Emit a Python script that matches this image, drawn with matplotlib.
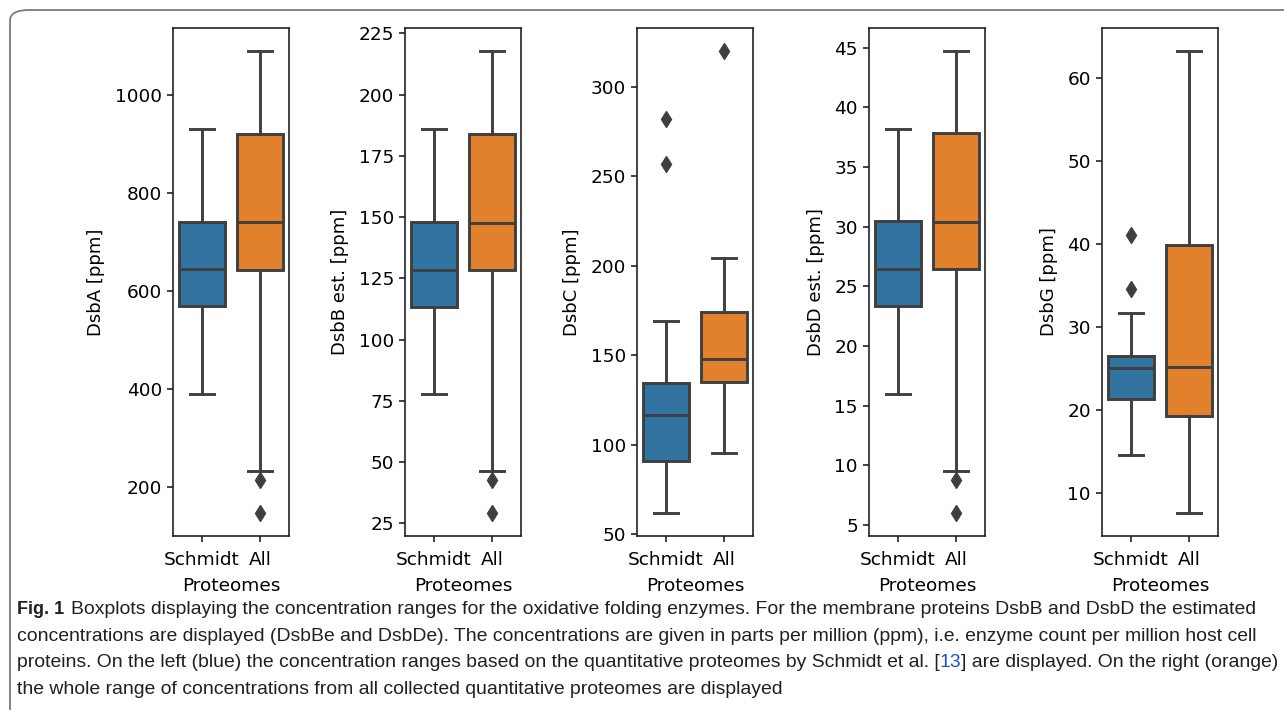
import matplotlib
matplotlib.use("Agg")
import matplotlib.pyplot as plt
from matplotlib.patches import FancyBboxPatch
from matplotlib.text import Annotation

# ---------------- data ----------------
categories = ["Schmidt", "All"]
ylabels = ["DsbA [ppm]", "DsbB est. [ppm]", "DsbC [ppm]", "DsbD est. [ppm]", "DsbG [ppm]"]

# each box: [whisker low, Q1, median, Q3, whisker high]
dsba_schmidt = [388.5, 569.4, 645.7, 742.0, 932.4]
dsba_all = [232.6, 643.7, 740.4, 922.0, 1090.8]
dsba_schmidt_out = []
dsba_all_out = [213.6, 146.3]

dsbb_schmidt = [77.7, 113.4, 128.6, 148.1, 186.0]
dsbb_all = [46.4, 128.3, 147.7, 184.0, 217.8]
dsbb_schmidt_out = []
dsbb_all_out = [42.5, 29.2]

dsbc_schmidt = [62.0, 90.7, 116.4, 134.5, 169.2]
dsbc_all = [95.3, 135.1, 148.1, 174.3, 204.2]
dsbc_schmidt_out = [256.5, 281.7]
dsbc_all_out = [319.8]

dsbd_schmidt = [15.93, 23.33, 26.44, 30.45, 38.2]
dsbd_all = [9.54, 26.4, 30.35, 37.8, 44.7]
dsbd_schmidt_out = []
dsbd_all_out = [8.76, 6.0]

dsbg_schmidt = [14.5, 21.3, 25.0, 26.5, 31.6]
dsbg_all = [7.55, 19.2, 25.1, 39.8, 63.2]
dsbg_schmidt_out = [34.5, 41.05]
dsbg_all_out = []

xlabel = "Proteomes"

caption_bold = "Fig. 1"
caption_line1 = "Boxplots displaying the concentration ranges for the oxidative folding enzymes. For the membrane proteins DsbB and DsbD the estimated"
caption_line2 = "concentrations are displayed (DsbBe and DsbDe). The concentrations are given in parts per million (ppm), i.e. enzyme count per million host cell"
caption_line3a = "proteins. On the left (blue) the concentration ranges based on the quantitative proteomes by Schmidt et al. ["
caption_line3b = "13"
caption_line3c = "] are displayed. On the right (orange)"
caption_line4 = "the whole range of concentrations from all collected quantitative proteomes are displayed"

# ---------------- styling ----------------
W, H = 1284, 710
fig = plt.figure(figsize=(W / 100, H / 100), dpi=100)

box_colors = ["#3274a1", "#e1812c"]
line_col = "#3f3f3f"
lw = 2.1
fs = 13.3

panels = [
    (dsba_schmidt, dsba_all, dsba_schmidt_out, dsba_all_out),
    (dsbb_schmidt, dsbb_all, dsbb_schmidt_out, dsbb_all_out),
    (dsbc_schmidt, dsbc_all, dsbc_schmidt_out, dsbc_all_out),
    (dsbd_schmidt, dsbd_all, dsbd_schmidt_out, dsbd_all_out),
    (dsbg_schmidt, dsbg_all, dsbg_schmidt_out, dsbg_all_out),
]

lefts_px = [173, 405, 637, 869, 1102]
ax_w, ax_top, ax_bot = 116, 28, 536

def stat(v, out, label):
    return dict(whislo=v[0], q1=v[1], med=v[2], q3=v[3], whishi=v[4], fliers=out, label=label)

for i, (s, a, so, ao) in enumerate(panels):
    ax = fig.add_axes([lefts_px[i] / W, 1 - ax_bot / H, ax_w / W, (ax_bot - ax_top) / H])
    stats = [stat(s, so, categories[0]), stat(a, ao, categories[1])]
    bp = ax.bxp(stats, positions=[0, 1], widths=0.8, capwidths=0.4, patch_artist=True,
                manage_ticks=False,
                boxprops=dict(edgecolor=line_col, linewidth=lw),
                whiskerprops=dict(color=line_col, linewidth=lw),
                capprops=dict(color=line_col, linewidth=lw),
                medianprops=dict(color=line_col, linewidth=lw),
                flierprops=dict(marker="d", markerfacecolor=line_col, markeredgecolor=line_col,
                                markersize=8.5, linestyle="none"))
    for patch, c in zip(bp["boxes"], box_colors):
        patch.set_facecolor(c)
    ax.set_xlim(-0.5, 1.5)
    ax.set_xticks([0, 1])
    ax.set_xticklabels(categories)
    ax.tick_params(labelsize=fs, length=4.5, width=1.2, color="#222222")
    ax.tick_params(axis="x", pad=6)
    ax.set_xlabel(xlabel, fontsize=fs, labelpad=6)
    ax.set_ylabel(ylabels[i], fontsize=fs - 0.3, labelpad=7)
    for sp in ax.spines.values():
        sp.set_linewidth(1.2)
        sp.set_color("#222222")

# ---------------- frame and caption ----------------
frame = FancyBboxPatch((10 / W, -0.2), 1.2, 1.2 - 10 / H,
                       boxstyle="round,pad=0,rounding_size=0.015",
                       transform=fig.transFigure, fill=False, edgecolor="#7a7a7a",
                       linewidth=1.3, zorder=0)
fig.patches.append(frame)

cap_font = "Liberation Sans"
cfs = 13.95
tcol = "#231f20"
x0 = 17 / W
line_y = [618, 645, 671, 698]

t_bold = fig.text(x0, 1 - line_y[0] / H, caption_bold, fontsize=13, family=cap_font,
                  fontweight="bold", va="bottom", color=tcol)
fig.add_artist(Annotation(caption_line1, xy=(1, 0), xycoords=t_bold,
                          xytext=(5, 0), textcoords="offset points", fontsize=cfs,
                          family=cap_font, va="bottom", color=tcol))
fig.text(x0, 1 - line_y[1] / H, caption_line2, fontsize=cfs, family=cap_font, va="bottom", color=tcol)
t3a = fig.text(x0, 1 - line_y[2] / H, caption_line3a, fontsize=cfs, family=cap_font,
               va="bottom", color=tcol)
t3b = Annotation(caption_line3b, xy=(1, 0), xycoords=t3a, fontsize=cfs,
                 family=cap_font, va="bottom", color="#1a56c8")
fig.add_artist(t3b)
t3c = Annotation(caption_line3c, xy=(1, 0), xycoords=t3b, fontsize=cfs,
                 family=cap_font, va="bottom", color=tcol)
fig.add_artist(t3c)
fig.text(x0, 1 - line_y[3] / H, caption_line4, fontsize=cfs, family=cap_font, va="bottom", color=tcol)

fig.savefig("out.png", dpi=100)
